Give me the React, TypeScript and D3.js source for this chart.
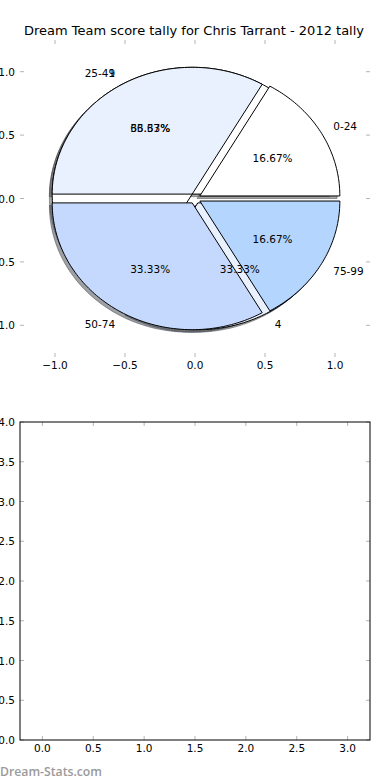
import React from "react";
import * as d3 from "d3";

// pie data (two pies were drawn into the same axes)
const scoreBands = ["0-24", "25-49", "50-74", "75-99"];
const bandCounts = [1, 2, 2, 1];
const bandColors = ["#ffffff", "#eaf1fe", "#c5d9fe", "#b3d5fe"];

const tallyLabels = ["1", "4"];
const tallyCounts = [2, 1];
const tallyColors = ["#ffffff", "#eaf1fe"];

const explode = 0.04;

// ticks
const pieTicks = [-1, -0.5, 0, 0.5, 1];
const emptyXTicks = [0, 0.5, 1, 1.5, 2, 2.5, 3];
const emptyYTicks = [0, 0.5, 1, 1.5, 2, 2.5, 3, 3.5, 4];

const W = 390, H = 780;
const left = 20, right = 370;
const top1 = 40, bottom1 = 357;
const top2 = 422, bottom2 = 740;

const font = "'DejaVu Sans', sans-serif";
const fmt = d3.format(".1f");

const x1 = d3.scaleLinear().domain([-1.25, 1.25]).range([left, right]);
const y1 = d3.scaleLinear().domain([-1.25, 1.25]).range([bottom1, top1]);
const x2 = d3.scaleLinear().domain([-0.22, 3.22]).range([left, right]);
const y2 = d3.scaleLinear().domain([0, 4]).range([bottom2, top2]);

const line = d3.line<[number, number]>().x(p => x1(p[0])).y(p => y1(p[1]));

function wedgePoints(a0: number, a1: number, cx: number, cy: number) {
  const pts: [number, number][] = [[cx, cy]];
  const n = Math.max(8, Math.ceil((a1 - a0) / 0.02));
  for (let i = 0; i <= n; i++) {
    const t = a0 + ((a1 - a0) * i) / n;
    pts.push([cx + Math.cos(t), cy + Math.sin(t)]);
  }
  return pts;
}

function buildPie(counts: number[], labels: string[], colors: string[]) {
  const arcs = d3.pie<number>().sort(null).startAngle(0).endAngle(2 * Math.PI)(counts);
  const total = d3.sum(counts);
  return arcs.map((a, i) => {
    const mid = (a.startAngle + a.endAngle) / 2;
    const cx = explode * Math.cos(mid), cy = explode * Math.sin(mid);
    const pts = wedgePoints(a.startAngle, a.endAngle, cx, cy);
    const shadowPts = pts.map(p => [p[0] - 0.02, p[1] - 0.02] as [number, number]);
    const c = d3.rgb(colors[i]);
    const shade = d3.rgb(c.r * 0.3, c.g * 0.3, c.b * 0.3).formatHex();
    const lx = cx + 1.1 * Math.cos(mid), ly = cy + 1.1 * Math.sin(mid);
    const px = cx + 0.6 * Math.cos(mid), py = cy + 0.6 * Math.sin(mid);
    return {
      path: line(pts) + "Z",
      shadow: line(shadowPts) + "Z",
      color: colors[i],
      shade,
      label: labels[i],
      lx, ly,
      anchor: lx > 0 ? "start" : "end",
      px, py,
      pct: d3.format(".2f")((100 * counts[i]) / total) + "%",
    };
  });
}

const tallyPie = buildPie(tallyCounts, tallyLabels, tallyColors);
const bandPie = buildPie(bandCounts, scoreBands, bandColors);
const allWedges = [...tallyPie, ...bandPie];

const tickColor = "#b4b4b4";

export default function App() {
  return (
    <div style={{ position: "absolute", left: 0, top: 0 }}>
      <svg width={W} height={H} style={{ display: "block", background: "#fff" }} fontFamily={font}>
        <text x={194} y={35} fontSize={12.8} textAnchor="middle" fill="#000" textLength={340} lengthAdjust="spacingAndGlyphs">
          Dream Team score tally for Chris Tarrant - 2012 tally
        </text>

        {/* pie axes: ticks only, no frame */}
        {pieTicks.map(t => (
          <g key={"pt" + t}>
            <line x1={x1(t)} x2={x1(t)} y1={bottom1} y2={bottom1 - 4} stroke={tickColor} />
            <line x1={x1(t)} x2={x1(t)} y1={top1} y2={top1 + 4} stroke={tickColor} />
            <line x1={left} x2={left + 4} y1={y1(t)} y2={y1(t)} stroke={tickColor} />
            <line x1={right} x2={right - 4} y1={y1(t)} y2={y1(t)} stroke={tickColor} />
            <text x={x1(t)} y={bottom1 + 12} fontSize={10.5} textAnchor="middle">{fmt(t)}</text>
            <text x={15} y={y1(t)} fontSize={10.5} textAnchor="end" dominantBaseline="central">{fmt(t)}</text>
          </g>
        ))}

        {allWedges.map((w, i) => (
          <path key={"s" + i} d={w.shadow} fill={w.shade} fillOpacity={0.5} stroke={w.shade} strokeOpacity={0.5} strokeWidth={1} />
        ))}
        {allWedges.map((w, i) => (
          <path key={"w" + i} d={w.path} fill={w.color} stroke="#000" strokeWidth={1} strokeLinejoin="round" />
        ))}
        {allWedges.map((w, i) => (
          <g key={"l" + i} fontSize={10.5}>
            <text x={x1(w.lx)} y={y1(w.ly)} textAnchor={w.anchor} dominantBaseline="central">{w.label}</text>
            <text x={x1(w.px)} y={y1(w.py)} textAnchor="middle" dominantBaseline="central">{w.pct}</text>
          </g>
        ))}

        {/* empty lower axes */}
        {emptyXTicks.map(t => (
          <g key={"ex" + t}>
            <line x1={x2(t)} x2={x2(t)} y1={bottom2} y2={bottom2 - 4} stroke={tickColor} />
            <line x1={x2(t)} x2={x2(t)} y1={top2} y2={top2 + 4} stroke={tickColor} />
            <text x={x2(t)} y={bottom2 + 12} fontSize={10.5} textAnchor="middle">{fmt(t)}</text>
          </g>
        ))}
        {emptyYTicks.map(t => (
          <g key={"ey" + t}>
            <line x1={left} x2={left + 4} y1={y2(t)} y2={y2(t)} stroke={tickColor} />
            <line x1={right} x2={right - 4} y1={y2(t)} y2={y2(t)} stroke={tickColor} />
            <text x={15} y={y2(t)} fontSize={10.5} textAnchor="end" dominantBaseline="central">{fmt(t)}</text>
          </g>
        ))}
        <rect x={left} y={top2} width={right - left} height={bottom2 - top2} fill="none" stroke="#000" strokeWidth={1} />

        <text x={0} y={776} fontSize={13} fontWeight={600} fill="#9a9a9a" fontFamily="'Open Sans', sans-serif" textLength={102} lengthAdjust="spacingAndGlyphs">
          Dream-Stats.com
        </text>
      </svg>
    </div>
  );
}
